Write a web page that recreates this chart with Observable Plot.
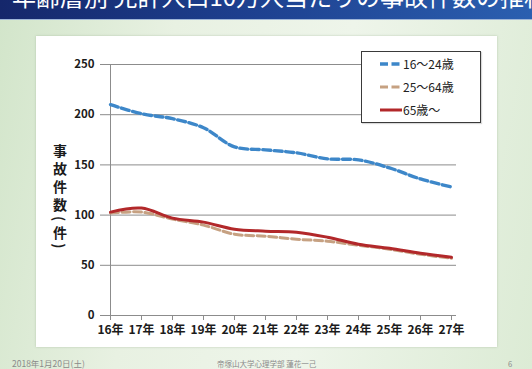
<!DOCTYPE html>
<html lang="ja">
<head>
<meta charset="utf-8">
<script src="https://cdn.jsdelivr.net/npm/d3@7"></script>
<script src="https://cdn.jsdelivr.net/npm/@observablehq/plot@0.6"></script>
<style>
  html, body { margin: 0; padding: 0; }
  body {
    width: 532px; height: 369px; overflow: hidden; position: relative;
    font-family: "Noto Sans CJK JP", "Noto Sans", sans-serif;
    background: linear-gradient(100deg, #d2e5ca 0%, #e8f1e2 30%, #eef5ea 60%, #dcebd5 100%);
  }
  #header {
    position: absolute; left: 0; top: 0; width: 532px; height: 19px; overflow: hidden;
    background: linear-gradient(90deg, #15276b 0%, #1d3f8e 45%, #2b5fb0 100%);
    border-bottom: 1px solid #9fb6d8;
  }
  #header span {
    position: absolute; left: 12px; top: -22px; white-space: nowrap;
    color: #fff; font-size: 24px;
  }
  #card {
    position: absolute; left: 36px; top: 36px; width: 461px; height: 311px;
    background: #fff; box-shadow: 0 0 2px rgba(150,170,140,0.6);
  }
  #ytitle {
    position: absolute; left: 14px; top: 108px;
    writing-mode: vertical-rl; text-orientation: mixed;
    font-size: 14px; font-weight: bold; letter-spacing: 4px; line-height: 20px;
    color: #1b1b1b; white-space: nowrap;
  }
  #legend {
    position: absolute; left: 325px; top: 15px; width: 118px; height: 70px;
    border: 1px solid #3a3a3a; background: #fff; box-shadow: 1px 1px 1px rgba(0,0,0,0.15);
  }
  .row { position: absolute; left: 0; height: 24px; width: 118px; }
  .row svg { position: absolute; left: 17px; top: 9px; }
  .row span { position: absolute; left: 41px; top: 3px; font-size: 12px; color: #222; line-height: 17px; }
  .foot { position: absolute; top: 359px; font-size: 7.5px; line-height: 9px; color: #8a8a8a; white-space: nowrap; }
</style>
</head>
<body>
<div id="header"><span>年齢層別 免許人口10万人当たりの事故件数の推移</span></div>
<div id="card"></div>
<div class="foot" style="left:12px; font-size:8.5px;">2018年1月20日(土)</div>
<div class="foot" style="left:217px">帝塚山大学心理学部 蓮花一己</div>
<div class="foot" style="left:508px">6</div>
<script>
// Fiscal years on the horizontal axis
const years = ["16年", "17年", "18年", "19年", "20年", "21年", "22年", "23年", "24年", "25年", "26年", "27年"];

// Accident counts per age group
const age16to24 = [210, 201, 196, 187, 168, 165, 162, 156, 155, 147, 136, 128];
const age25to64 = [102, 103, 96, 90, 81, 79, 76, 74, 70, 66, 61, 57];
const age65plus = [103, 107, 97, 93, 86, 84, 83, 78, 71, 67, 62, 58];

const seriesNames = ["16～24歳", "25～64歳", "65歳～"];
const seriesColors = ["#3d87c9", "#c6a182", "#b2282a"];
const seriesDash = ["8,3.5", "8,3.5", null];
const seriesWidth = [3.4, 3, 3];

const yTicks = [0, 50, 100, 150, 200, 250];
const yTitle = "事故件数(件)";

const seriesValues = [age16to24, age25to64, age65plus];
const rows = seriesValues.flatMap((vals, s) =>
  vals.map((v, i) => ({ year: years[i], value: v, series: seriesNames[s] }))
);

const lineMarks = seriesNames.map((name, s) =>
  Plot.line(rows.filter(d => d.series === name), {
    x: "year", y: "value",
    stroke: seriesColors[s],
    strokeWidth: seriesWidth[s],
    strokeDasharray: seriesDash[s] ?? undefined,
    curve: "catmull-rom"
  })
);

const chart = Plot.plot({
  width: 461,
  height: 311,
  marginLeft: 69,
  marginRight: 41,
  marginTop: 28,
  marginBottom: 32,
  style: { fontFamily: "'Noto Sans CJK JP', sans-serif", color: "#1b1b1b", background: "#fff" },
  x: { type: "point", domain: years, padding: 0 },
  y: { domain: [0, 250] },
  marks: [
    Plot.gridY(yTicks.slice(1), { stroke: "#8c8c8c", strokeOpacity: 1, strokeWidth: 1 }),
    Plot.ruleY([0], { stroke: "#8c8c8c" }),
    Plot.ruleX([years[0]], { stroke: "#8c8c8c" }),
    Plot.axisY({ ticks: yTicks, tickSize: 5, tickPadding: 6, label: null, fontSize: 11.5, fontWeight: "bold", stroke: "#8c8c8c" }),
    Plot.axisX({ tickSize: 5, tickPadding: 5, label: null, fontSize: 12, fontWeight: "bold", stroke: "#8c8c8c" }),
    ...lineMarks
  ]
});

const card = document.getElementById("card");
card.appendChild(chart);

// Vertical axis title, set top to bottom
const title = document.createElement("div");
title.id = "ytitle";
title.textContent = yTitle;
card.appendChild(title);

// Legend box drawn over the upper right of the chart
const legend = document.createElement("div");
legend.id = "legend";
seriesNames.forEach((name, s) => {
  const row = document.createElement("div");
  row.className = "row";
  row.style.top = (s * 23) + "px";
  const dash = seriesDash[s] ? ` stroke-dasharray="${seriesDash[s]}"` : "";
  row.innerHTML =
    `<svg width="24" height="6"><line x1="1" y1="3" x2="23" y2="3" stroke="${seriesColors[s]}" stroke-width="${seriesWidth[s]}"${dash}/></svg>` +
    `<span>${name}</span>`;
  legend.appendChild(row);
});
card.appendChild(legend);
</script>
</body>
</html>
